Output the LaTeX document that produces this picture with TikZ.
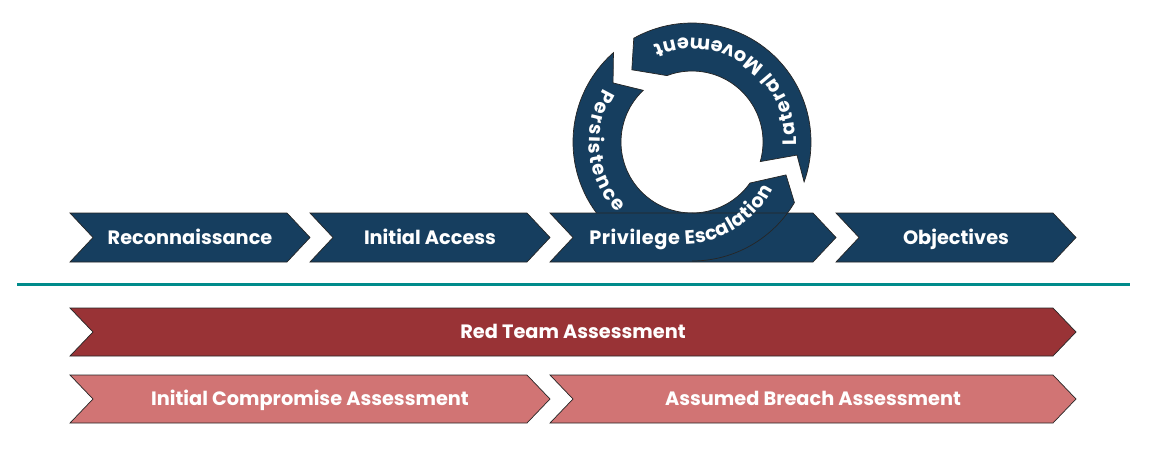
\documentclass[tikz,border=0pt]{standalone}
\usepackage{fontspec}
\setmainfont{Poppins}
\usetikzlibrary{decorations.text}
\definecolor{navy}{RGB}{22,62,95}
\definecolor{redteam}{RGB}{153,51,54}
\definecolor{pinkish}{RGB}{209,116,116}
\definecolor{tealline}{RGB}{0,139,139}
\newcommand\lblfont{\fontsize{11}{13}\selectfont\bfseries}
\begin{document}
\begin{tikzpicture}[x=0.02cm,y=0.02cm,
  chev/.style={draw=black!85, line width=0.4pt},
  lbl/.style={text=white, font=\lblfont, inner sep=0pt, anchor=base},
  band/.style={fill=navy},
  bandline/.style={draw=black!85, line width=0.4pt},
  arctext/.style n args={3}{decorate, decoration={text effects along path,
      text={#1}, text align=#2,
      text effects/.cd, characters={transform shape, text=white, font=\lblfont, inner xsep=#3, inner ysep=0pt, anchor=base}}}]
\useasboundingbox (0,0) rectangle (1153,458);

% circular arrows (behind chevron)
\begin{scope}[shift={(692,316)}]
  % Persistence
  \path[band, bandline] (270:119) arc[start angle=270, end angle=131.3, radius=119]
     -- (143.2:98.6) -- (133.3:71) arc[start angle=133.3, end angle=270, radius=71] -- cycle;
  % Lateral Movement
  \path[band, bandline] (119.3:119) arc[start angle=119.3, end angle=-19.6, radius=119]
     -- (-7.1:105.8) -- (-16:71) arc[start angle=-16, end angle=110.7, radius=71]
     -- (129.8:94) -- cycle;
  % Privilege Escalation (fill)
  \fill[navy] (-30.6:119) arc[start angle=-30.6, end angle=-90, radius=119]
     -- (-90:71) arc[start angle=-90, end angle=-35.3, radius=71] -- (-19.3:99.6) -- cycle;
\end{scope}

% top chevrons
\fill[navy, chev] (70,245) -- (287,245) -- (310,220.5) -- (287,196) -- (70,196) -- (93,220.5) -- cycle;
\fill[navy, chev] (310,245) -- (527,245) -- (550,220.5) -- (527,196) -- (310,196) -- (333,220.5) -- cycle;
\fill[navy, chev] (550,245) -- (813,245) -- (836,220.5) -- (813,196) -- (550,196) -- (573,220.5) -- cycle;
\fill[navy, chev] (836,245) -- (1053,245) -- (1076,220.5) -- (1053,196) -- (836,196) -- (859,220.5) -- cycle;

\begin{scope}[shift={(692,316)}]
  \draw[bandline] (-90:71) arc[start angle=-90, end angle=-35.3, radius=71] -- (-19.3:99.6)
     -- (-30.6:119) arc[start angle=-30.6, end angle=-90, radius=119];
  \path[arctext={Lateral Movement}{center}{0.5pt}]
     (-5:104) arc[start angle=-5, end angle=115, radius=104];
  \path[arctext={Persistence}{center}{0.5pt}]
     (140:103) arc[start angle=140, end angle=232, radius=103];
\end{scope}
\path[arctext={Privilege Escalation}{left}{0.15pt}]
   (589,214) -- (683,214) arc[start angle=-90, end angle=0, radius=100];

\node[lbl] (recon) at (190,214) {Reconnaissance};
\node[lbl] (access) at (430,214) {Initial Access};
\node[lbl] (obj) at (956,214) {Objectives};

% separator
\draw[tealline, line width=0.06cm] (17,174) -- (1130,174);

% assessments
\fill[redteam, chev] (70,150) -- (1053,150) -- (1076,126) -- (1053,102) -- (70,102) -- (93,126) -- cycle;
\fill[pinkish, chev] (70,83) -- (527,83) -- (550,59) -- (527,35) -- (70,35) -- (93,59) -- cycle;
\fill[pinkish, chev] (550,83) -- (1053,83) -- (1076,59) -- (1053,35) -- (550,35) -- (573,59) -- cycle;
\node[lbl] (red) at (573,119.5) {Red Team Assessment};
\node[lbl] (ica) at (310,52.5) {Initial Compromise Assessment};
\node[lbl] (aba) at (813,52.5) {Assumed Breach Assessment};
\end{tikzpicture}
\end{document}
